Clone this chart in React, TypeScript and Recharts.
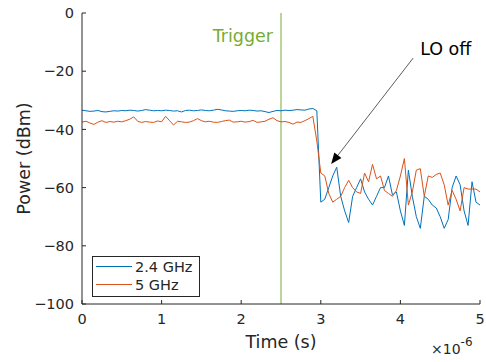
import React from 'react'
import { LineChart, Line, XAxis, YAxis, ReferenceLine, Legend } from 'recharts'

// time axis in microseconds (axis shows ×10^-6 s)
const TIME_US = [
  0, 0.05, 0.1, 0.15, 0.2, 0.25, 0.3, 0.35, 0.4, 0.45,
  0.5, 0.55, 0.6, 0.65, 0.7, 0.75, 0.8, 0.85, 0.9, 0.95,
  1, 1.05, 1.1, 1.15, 1.2, 1.25, 1.3, 1.35, 1.4, 1.45,
  1.5, 1.55, 1.6, 1.65, 1.7, 1.75, 1.8, 1.85, 1.9, 1.95,
  2, 2.05, 2.1, 2.15, 2.2, 2.25, 2.3, 2.35, 2.4, 2.45,
  2.5, 2.55, 2.6, 2.65, 2.7, 2.75, 2.8, 2.85, 2.9, 2.95,
  3, 3.05, 3.1, 3.15, 3.2, 3.25, 3.3, 3.35, 3.4, 3.45,
  3.5, 3.55, 3.6, 3.65, 3.7, 3.75, 3.8, 3.85, 3.9, 3.95,
  4, 4.05, 4.1, 4.15, 4.2, 4.25, 4.3, 4.35, 4.4, 4.45,
  4.5, 4.55, 4.6, 4.65, 4.7, 4.75, 4.8, 4.85, 4.9, 4.95,
  5,
]

const P_24GHZ = [
  -33.4, -33.6, -33.8, -33.7, -33.5, -33.9, -34.0, -33.8, -33.6, -33.7,
  -33.5, -33.6, -33.4, -33.5, -33.7, -33.5, -33.2, -33.4, -33.6, -33.5,
  -33.6, -33.4, -33.5, -33.7, -33.6, -34.0, -33.5, -33.4, -33.6, -33.5,
  -33.3, -33.5, -33.6, -33.4, -33.1, -33.3, -33.6, -33.7, -33.8, -33.6,
  -33.5, -33.6, -33.4, -33.5, -33.7, -33.6, -33.9, -34.2, -33.8, -33.5,
  -33.6, -33.4, -33.5, -33.4, -33.2, -33.3, -33.4, -33.0, -32.8, -33.6,
  -65, -64, -60, -56, -53, -63, -68, -72, -63, -60,
  -57, -61.5, -64, -66, -63, -60, -60, -56, -62.5, -61.5,
  -68, -73, -54, -63, -70, -74, -63, -64, -66, -67,
  -70, -74, -71, -60, -56, -59, -68, -73, -58, -65,
  -66,
]

const P_5GHZ = [
  -37.5, -37.2, -37.8, -38.3, -37.5, -37.0, -37.6, -37.3, -37.5, -37.2,
  -37.4, -37.0, -36.5, -35.7, -37.2, -37.6, -37.3, -37.5, -37.6, -37.1,
  -37.4, -35.5, -37.0, -38.5, -37.2, -37.4, -37.6, -37.5, -37.0, -36.3,
  -37.0, -37.4, -37.2, -37.5, -37.6, -37.3, -37.0, -36.8, -37.5, -37.4,
  -37.2, -37.5, -37.3, -36.9, -37.6, -37.4, -37.2, -36.5, -36.0, -37.0,
  -37.4, -37.3, -37.6, -38.2, -37.5, -37.6, -37.0, -36.3, -35.5, -44.0,
  -55, -56, -62, -65, -64, -63, -60, -57.5, -60, -61.5,
  -62, -55, -58, -52, -57, -56, -61, -62, -63, -61,
  -56, -50, -66, -61.5, -54, -53.5, -63, -56, -56.5, -55.5,
  -55, -59, -66, -61, -64, -68, -60, -60.5, -60.5, -60.5,
  -61.5,
]

const SERIES = [
  { key: 'p24', name: '2.4 GHz', color: '#0072BD' },
  { key: 'p5', name: '5 GHz', color: '#D95319' },
]

const X_TICKS = [0, 1, 2, 3, 4, 5]
const Y_TICKS = [-100, -80, -60, -40, -20, 0]
const TRIGGER_US = 2.5
const ARROW_TAIL = { x: 4.16, y: -15.5 }
const ARROW_TIP = { x: 3.13, y: -51.9 }

const GREEN = '#77AC30'
const AXIS = '#262626'
const FONT = '"DejaVu Sans", sans-serif'

const data = TIME_US.map((t, i) => ({ t, p24: P_24GHZ[i], p5: P_5GHZ[i] }))

const minus = (v: number) => String(v).replace('-', '\u2212')

function ArrowShape(props: any) {
  const { x1, y1, x2, y2 } = props
  const dx = x2 - x1
  const dy = y2 - y1
  const len = Math.hypot(dx, dy)
  const ux = dx / len
  const uy = dy / len
  const hl = 11
  const hw = 4.5
  const bx = x2 - ux * hl
  const by = y2 - uy * hl
  const pts = `${x2},${y2} ${bx - uy * hw},${by + ux * hw} ${bx + uy * hw},${by - ux * hw}`
  return (
    <g>
      <line x1={x1} y1={y1} x2={bx} y2={by} stroke="#333" strokeWidth={0.8} />
      <polygon points={pts} fill="#000" />
      <text x={x1 + 7} y={y1 - 3} fontSize={17.5} fontFamily={FONT} fill="#000">LO off</text>
    </g>
  )
}

// MATLAB style legend box, drawn as a small svg
function LegendBox() {
  return (
    <svg width={108} height={41} style={{ display: 'block' }}>
      <rect x={0.5} y={0.5} width={107} height={40} fill="#fff" stroke={AXIS} strokeWidth={1} />
      {SERIES.map((s, i) => (
        <g key={s.key}>
          <line x1={4} x2={40} y1={10.5 + i * 18} y2={10.5 + i * 18} stroke={s.color} strokeWidth={1} />
          <text x={43} y={15.5 + i * 18} fontSize={14.5} fontFamily={FONT} fill={AXIS}>{s.name}</text>
        </g>
      ))}
    </svg>
  )
}

export default function App() {
  return (
    <div style={{ position: 'absolute', left: 0, top: 0, background: '#fff' }}>
      <LineChart width={486} height={362} data={data} margin={{ top: 13, right: 6, left: 0, bottom: 0 }}>
        <XAxis
          dataKey="t"
          type="number"
          domain={[0, 5]}
          ticks={X_TICKS}
          height={58}
          stroke={AXIS}
          tickSize={-4}
          tickMargin={14}
          tick={{ fontSize: 14.5, fill: AXIS, fontFamily: FONT }}
          label={({ viewBox }: any) => (
            <g fontFamily={FONT} fill={AXIS}>
              <text x={viewBox.x + viewBox.width / 2} y={viewBox.y + 44} textAnchor="middle" fontSize={17.5}>Time (s)</text>
              <text x={431} y={viewBox.y + 50} fontSize={14}>
                ×10<tspan dy={-8} fontSize={12}>-6</tspan>
              </text>
            </g>
          )}
        />
        <XAxis xAxisId="top" orientation="top" type="number" domain={[0, 5]} ticks={X_TICKS} height={0} stroke={AXIS} tickSize={-4} tick={false} />
        <YAxis
          type="number"
          domain={[-100, 0]}
          ticks={Y_TICKS}
          width={82}
          stroke={AXIS}
          tickSize={-4}
          tickMargin={12}
          tickFormatter={minus}
          tick={{ fontSize: 14.5, fill: AXIS, fontFamily: FONT }}
          label={({ viewBox }: any) => (
            <text
              x={30}
              y={viewBox.y + viewBox.height / 2}
              transform={`rotate(-90, 30, ${viewBox.y + viewBox.height / 2})`}
              textAnchor="middle"
              fontSize={17.5}
              fontFamily={FONT}
              fill={AXIS}
            >
              Power (dBm)
            </text>
          )}
        />
        <YAxis yAxisId="right" orientation="right" type="number" domain={[-100, 0]} ticks={Y_TICKS} width={0} stroke={AXIS} tickSize={-4} tick={false} />
        <ReferenceLine
          x={TRIGGER_US}
          stroke={GREEN}
          strokeWidth={1}
          label={({ viewBox }: any) => (
            <text x={viewBox.x - 8} y={viewBox.y + 29} textAnchor="end" fontSize={17.5} fontFamily={FONT} fill={GREEN}>Trigger</text>
          )}
        />
        {SERIES.map((s) => (
          <Line key={s.key} dataKey={s.key} name={s.name} stroke={s.color} strokeWidth={1} dot={false} type="linear" isAnimationActive={false} />
        ))}
        <ReferenceLine segment={[ARROW_TAIL, ARROW_TIP]} shape={ArrowShape} />
        <Legend
          layout="vertical"
          align="center"
          verticalAlign="middle"
          content={() => <LegendBox />}
          wrapperStyle={{ position: 'absolute', left: 92, top: 256, width: 'auto' }}
        />
      </LineChart>
    </div>
  )
}
